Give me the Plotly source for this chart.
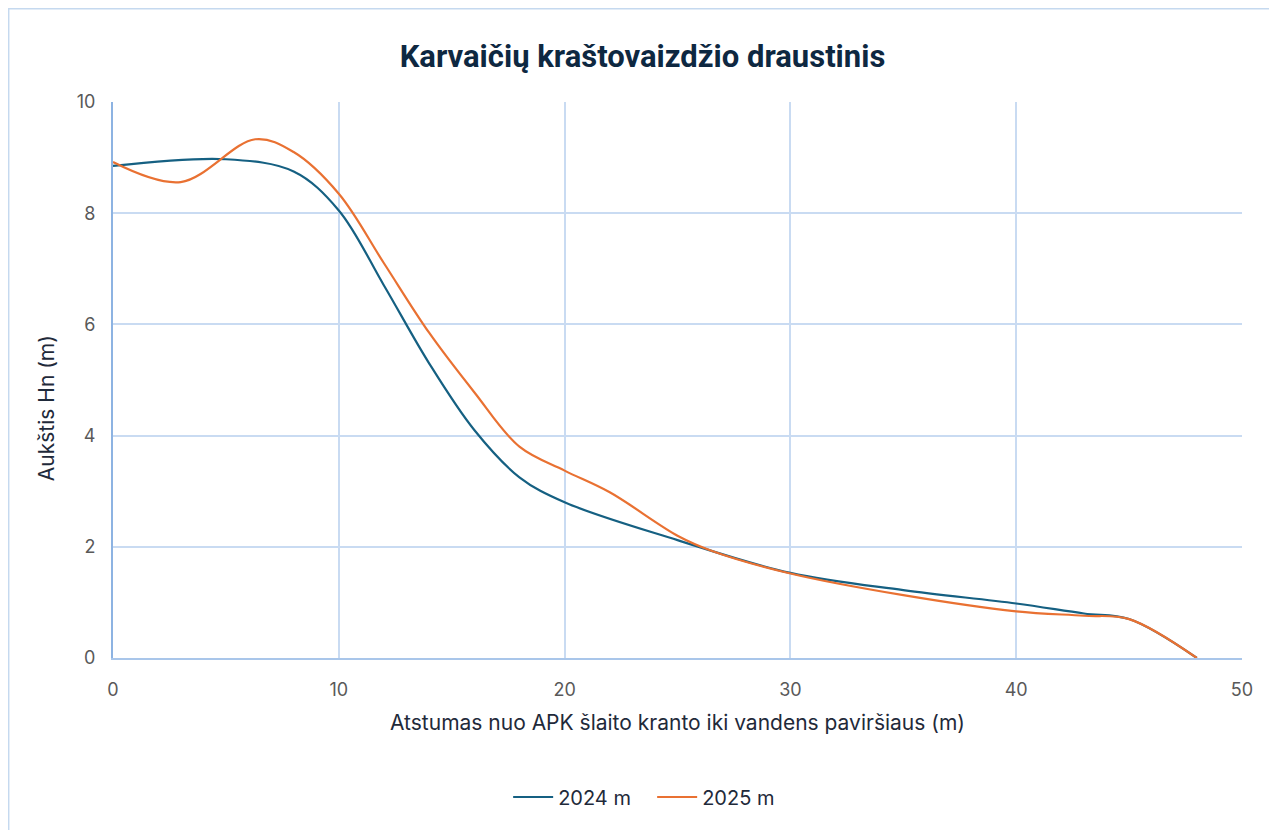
import plotly.graph_objects as go

# atstumas (m) ir aukstis (m)
x_2024 = [0, 5, 8, 10, 12, 14, 16, 18, 20, 25, 30, 35, 40, 43, 45, 48]
y_2024 = [8.85, 8.97, 8.75, 8.05, 6.7, 5.3, 4.1, 3.25, 2.8, 2.12, 1.53, 1.22, 0.98, 0.8, 0.7, 0]

x_2025 = [0, 3, 6.3, 8, 10, 12, 14, 16, 18, 20, 22, 25, 26.5, 30, 35, 40, 43, 45, 48]
y_2025 = [8.92, 8.56, 9.33, 9.1, 8.35, 7.1, 5.85, 4.78, 3.8, 3.37, 2.98, 2.2, 1.93, 1.52, 1.13, 0.84, 0.76, 0.7, 0]

font_main = "Inter, Noto Sans, sans-serif"

fig = go.Figure()

fig.add_trace(go.Scatter(
    x=x_2024, y=y_2024, name="2024 m", mode="lines",
    line=dict(color="#156082", width=2.2, shape="spline", smoothing=1.0)
))
fig.add_trace(go.Scatter(
    x=x_2025, y=y_2025, name="2025 m", mode="lines",
    line=dict(color="#E97132", width=2.2, shape="spline", smoothing=1.0)
))

# chart area border
fig.add_shape(type="rect", xref="paper", yref="paper",
              x0=-0.0926, x1=1.0284, y0=-0.35, y1=1.168,
              line=dict(color="#C5D9EF", width=2), layer="below")

# y axis title placed as annotation (sits a bit below the centre)
fig.add_annotation(text="Aukštis Hn (m)", xref="paper", yref="paper",
                   x=-0.059, y=0.45, textangle=-90, showarrow=False,
                   xanchor="center", yanchor="middle",
                   font=dict(family=font_main, size=21, color="#1F2A3A"))

fig.update_layout(
    width=1269, height=822,
    margin=dict(l=105, r=35, t=94, b=172),
    paper_bgcolor="white", plot_bgcolor="white",
    title=dict(text="<b>Karvaičių kraštovaizdžio draustinis</b>",
               x=0.5, xanchor="center", y=0.942, yanchor="middle",
               font=dict(family="Roboto, sans-serif", size=31, color="#0E2841")),
    xaxis=dict(range=[0, 50], dtick=10, showgrid=True, gridcolor="#C9DBF2", gridwidth=2,
               zeroline=False, showline=True, linecolor="#A9C6EA", linewidth=2,
               ticks="", ticklabelstandoff=14,
               tickfont=dict(family=font_main, size=18, color="#595959"),
               title=dict(text="Atstumas nuo APK šlaito kranto iki vandens paviršiaus (m)",
                          font=dict(family=font_main, size=21, color="#1F2A3A"), standoff=17)),
    yaxis=dict(range=[0, 10], dtick=2, showgrid=True, gridcolor="#C9DBF2", gridwidth=2,
               zeroline=False, showline=True, linecolor="#8DB3E2", linewidth=2,
               ticks="", ticklabelstandoff=12,
               tickfont=dict(family=font_main, size=18, color="#595959")),
    legend=dict(orientation="h", x=0.35, xanchor="left", y=-0.25, yanchor="middle",
                entrywidth=89, entrywidthmode="pixels", itemwidth=40,
                font=dict(family=font_main, size=20, color="#1F2A3A")),
    showlegend=True,
)

fig.write_html("out.html")
